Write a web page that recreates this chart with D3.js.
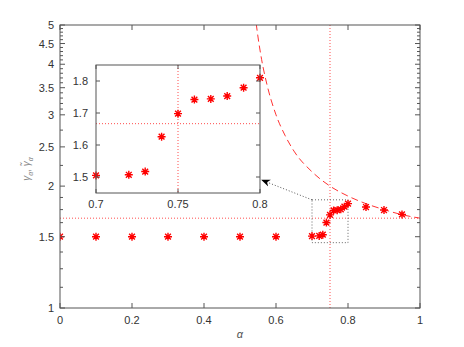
<!DOCTYPE html>
<html>
<head>
<meta charset="utf-8">
<script src="https://cdn.jsdelivr.net/npm/d3@7"></script>
<style>
  body { margin: 0; background: #fff; }
  svg { display: block; }
  text { font-family: "Liberation Sans", Arial, sans-serif; }
</style>
</head>
<body>
<svg id="chart" width="464" height="347"></svg>
<script>
// measured gamma vs alpha
const alphaVals = [0, 0.1, 0.2, 0.3, 0.4, 0.5, 0.6, 0.7, 0.72, 0.73, 0.74, 0.75, 0.76, 0.77, 0.78, 0.79, 0.8, 0.85, 0.9, 0.95];
const gammaVals = [1.5, 1.5, 1.5, 1.5, 1.5, 1.5, 1.5, 1.505, 1.507, 1.517, 1.626, 1.698, 1.742, 1.744, 1.753, 1.779, 1.81, 1.776, 1.746, 1.703];

// dashed reference curve
const curveAlpha = [0.545, 0.55, 0.56, 0.575, 0.6, 0.625, 0.65, 0.7, 0.75, 0.8, 0.85, 0.9, 0.95, 1.0];
const curveGamma = [5.04, 4.67, 4.11, 3.56, 3.0, 2.67, 2.44, 2.17, 2.0, 1.89, 1.81, 1.75, 1.70, 1.667];

const alphaCrit = 0.75;
const gammaRef = 5 / 3;

const xTicks = [0, 0.2, 0.4, 0.6, 0.8, 1];
const yTicks = [1, 1.5, 2, 2.5, 3, 3.5, 4, 4.5, 5];
const yMinor = [1.125, 1.25, 1.375, 1.625, 1.75, 1.875, 2.25, 2.75,
  3.1, 3.2, 3.3, 3.4, 3.6, 3.7, 3.8, 3.9, 4.1, 4.2, 4.3, 4.4, 4.6, 4.7, 4.8, 4.9];

const insetX = [0.7, 0.8];
const insetY = [1.45, 1.85];
const insetXTicks = [0.7, 0.75, 0.8];
const insetYTicks = [1.5, 1.6, 1.7, 1.8];

const svg = d3.select("#chart");
const m = { left: 60, right: 420, top: 25, bottom: 308 };

const x = d3.scaleLinear().domain([0, 1]).range([m.left, m.right]);
const y = d3.scaleLog().domain([1, 5]).range([m.bottom, m.top]);

const red = "#ff0000";
const axisCol = "#555";
const txtCol = "#333";

const data = alphaVals.map((a, i) => ({ a: a, g: gammaVals[i] }));
const curve = curveAlpha.map((a, i) => ({ a: a, g: curveGamma[i] }));

function star(sel, cx, cy) {
  const r = 4;
  const d = r * 0.72;
  sel.append("path")
    .attr("d", `M${cx - r},${cy}L${cx + r},${cy}M${cx},${cy - r}L${cx},${cy + r}` +
      `M${cx - d},${cy - d}L${cx + d},${cy + d}M${cx - d},${cy + d}L${cx + d},${cy - d}`)
    .attr("stroke", red)
    .attr("stroke-width", 1.4)
    .attr("fill", "none");
}

svg.append("defs").append("clipPath").attr("id", "clip")
  .append("rect")
  .attr("x", m.left).attr("y", m.top)
  .attr("width", m.right - m.left).attr("height", m.bottom - m.top);

const plot = svg.append("g").attr("clip-path", "url(#clip)");

// reference lines
plot.append("line")
  .attr("x1", x(alphaCrit)).attr("x2", x(alphaCrit))
  .attr("y1", m.top).attr("y2", m.bottom)
  .attr("stroke", red).attr("stroke-opacity", 0.7)
  .attr("stroke-dasharray", "1,2");
plot.append("line")
  .attr("x1", m.left).attr("x2", m.right)
  .attr("y1", y(gammaRef)).attr("y2", y(gammaRef))
  .attr("stroke", red).attr("stroke-opacity", 0.7)
  .attr("stroke-dasharray", "1,2");

// dashed curve
plot.append("path")
  .datum(curve)
  .attr("d", d3.line().x(d => x(d.a)).y(d => y(d.g)).curve(d3.curveMonotoneX))
  .attr("fill", "none")
  .attr("stroke", red)
  .attr("stroke-opacity", 0.8)
  .attr("stroke-width", 1)
  .attr("stroke-dasharray", "7,4");

// zoom box
plot.append("rect")
  .attr("x", x(insetX[0])).attr("y", y(insetY[1]))
  .attr("width", x(insetX[1]) - x(insetX[0]))
  .attr("height", y(insetY[0]) - y(insetY[1]))
  .attr("fill", "none")
  .attr("stroke", "#666")
  .attr("stroke-dasharray", "1,2");

data.forEach(d => star(plot, x(d.a), y(d.g)));

// main frame
svg.append("rect")
  .attr("x", m.left).attr("y", m.top)
  .attr("width", m.right - m.left).attr("height", m.bottom - m.top)
  .attr("fill", "none").attr("stroke", axisCol);

// x ticks
xTicks.forEach(t => {
  svg.append("line").attr("x1", x(t)).attr("x2", x(t)).attr("y1", m.bottom).attr("y2", m.bottom - 5).attr("stroke", axisCol);
  svg.append("line").attr("x1", x(t)).attr("x2", x(t)).attr("y1", m.top).attr("y2", m.top + 5).attr("stroke", axisCol);
  svg.append("text").attr("x", x(t)).attr("y", 324).attr("text-anchor", "middle")
    .attr("font-size", 11).attr("fill", txtCol).text(t);
});

// y ticks
yTicks.forEach(t => {
  svg.append("line").attr("x1", m.left).attr("x2", m.left + 5).attr("y1", y(t)).attr("y2", y(t)).attr("stroke", axisCol);
  svg.append("line").attr("x1", m.right).attr("x2", m.right - 5).attr("y1", y(t)).attr("y2", y(t)).attr("stroke", axisCol);
  svg.append("text").attr("x", 54).attr("y", y(t) + 4).attr("text-anchor", "end")
    .attr("font-size", 11).attr("fill", txtCol).text(t);
});
yMinor.forEach(t => {
  svg.append("line").attr("x1", m.left).attr("x2", m.left + 3).attr("y1", y(t)).attr("y2", y(t)).attr("stroke", axisCol);
  svg.append("line").attr("x1", m.right).attr("x2", m.right - 3).attr("y1", y(t)).attr("y2", y(t)).attr("stroke", axisCol);
});

// axis labels
svg.append("text")
  .attr("x", x(0.5)).attr("y", 338)
  .attr("text-anchor", "middle")
  .attr("font-family", "DejaVu Serif, serif")
  .attr("font-style", "italic")
  .attr("font-size", 11).attr("fill", "#555")
  .text("α");

const yl = svg.append("text")
  .attr("transform", "translate(30,169) rotate(-90)")
  .attr("text-anchor", "middle")
  .attr("font-family", "DejaVu Serif, serif")
  .attr("font-style", "italic")
  .attr("font-size", 10).attr("fill", "#888");
yl.append("tspan").text("γ");
yl.append("tspan").attr("font-size", 7).attr("dy", 3).text("α");
yl.append("tspan").attr("dy", -3).attr("font-style", "normal").text(", ");
yl.append("tspan").text("γ\u0303");
yl.append("tspan").attr("font-size", 7).attr("dy", 3).text("α");

// inset
const ins = { left: 96, right: 260, top: 65, bottom: 193 };
const ix = d3.scaleLinear().domain(insetX).range([ins.left, ins.right]);
const iy = d3.scaleLinear().domain(insetY).range([ins.bottom, ins.top]);

svg.append("rect")
  .attr("x", ins.left).attr("y", ins.top)
  .attr("width", ins.right - ins.left).attr("height", ins.bottom - ins.top)
  .attr("fill", "#fff");

svg.append("defs").append("clipPath").attr("id", "iclip")
  .append("rect")
  .attr("x", ins.left).attr("y", ins.top)
  .attr("width", ins.right - ins.left).attr("height", ins.bottom - ins.top);

const ip = svg.append("g").attr("clip-path", "url(#iclip)");
ip.append("line")
  .attr("x1", ix(alphaCrit)).attr("x2", ix(alphaCrit))
  .attr("y1", ins.top).attr("y2", ins.bottom)
  .attr("stroke", red).attr("stroke-opacity", 0.7).attr("stroke-dasharray", "1,2");
ip.append("line")
  .attr("x1", ins.left).attr("x2", ins.right)
  .attr("y1", iy(gammaRef)).attr("y2", iy(gammaRef))
  .attr("stroke", red).attr("stroke-opacity", 0.7).attr("stroke-dasharray", "1,2");

data.filter(d => d.a >= insetX[0] && d.a <= insetX[1])
  .forEach(d => star(svg, ix(d.a), iy(d.g)));

svg.append("rect")
  .attr("x", ins.left).attr("y", ins.top)
  .attr("width", ins.right - ins.left).attr("height", ins.bottom - ins.top)
  .attr("fill", "none").attr("stroke", axisCol);

insetXTicks.forEach(t => {
  svg.append("line").attr("x1", ix(t)).attr("x2", ix(t)).attr("y1", ins.bottom).attr("y2", ins.bottom - 4).attr("stroke", axisCol);
  svg.append("line").attr("x1", ix(t)).attr("x2", ix(t)).attr("y1", ins.top).attr("y2", ins.top + 4).attr("stroke", axisCol);
  svg.append("text").attr("x", ix(t)).attr("y", 208).attr("text-anchor", "middle")
    .attr("font-size", 11).attr("fill", txtCol).text(t);
});
insetYTicks.forEach(t => {
  svg.append("line").attr("x1", ins.left).attr("x2", ins.left + 4).attr("y1", iy(t)).attr("y2", iy(t)).attr("stroke", axisCol);
  svg.append("line").attr("x1", ins.right).attr("x2", ins.right - 4).attr("y1", iy(t)).attr("y2", iy(t)).attr("stroke", axisCol);
  svg.append("text").attr("x", 88).attr("y", iy(t) + 4).attr("text-anchor", "end")
    .attr("font-size", 11).attr("fill", txtCol).text(t.toFixed(1));
});

// arrow from zoom box to inset
svg.append("defs").append("marker")
  .attr("id", "head")
  .attr("viewBox", "0 0 10 10")
  .attr("refX", 9).attr("refY", 5)
  .attr("markerWidth", 9).attr("markerHeight", 9)
  .attr("markerUnits", "userSpaceOnUse")
  .attr("orient", "auto")
  .append("path").attr("d", "M0,1L10,5L0,9L3,5Z").attr("fill", "#000");

svg.append("line")
  .attr("x1", x(insetX[0])).attr("y1", y(insetY[1]))
  .attr("x2", ins.right + 2).attr("y2", iy(1.49))
  .attr("stroke", "#555")
  .attr("stroke-dasharray", "1,2")
  .attr("marker-end", "url(#head)");
</script>
</body>
</html>
